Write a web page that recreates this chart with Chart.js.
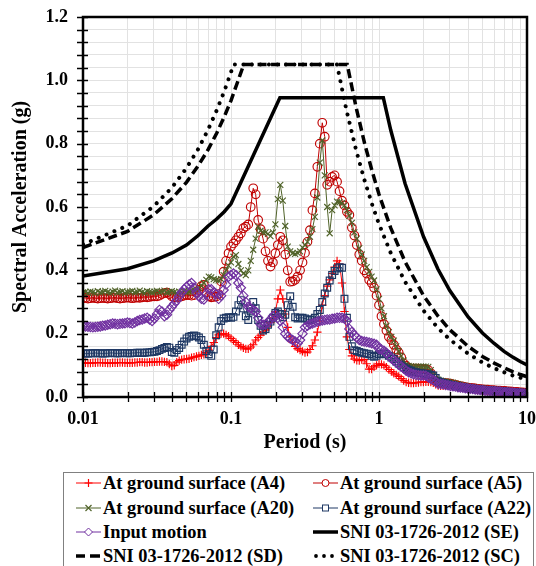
<!DOCTYPE html>
<html><head><meta charset="utf-8">
<script src="https://cdn.jsdelivr.net/npm/chart.js@4.4.1/dist/chart.umd.min.js"></script>
<style>
html,body{margin:0;padding:0;background:#fff;}
#wrap{position:absolute;left:0;top:0;width:536px;height:466px;}
#legend{position:absolute;left:63px;top:472px;width:471px;height:110px;border:1px solid #808080;box-sizing:border-box;font-family:"Liberation Serif","Times New Roman",serif;font-weight:bold;font-size:18.4px;color:#000;}
.it{position:absolute;height:20px;display:flex;align-items:center;white-space:nowrap;}
.it svg{margin-right:2px;flex:none;}
</style></head><body>
<div id="wrap"><canvas id="c"></canvas></div>
<div id="legend"></div>
<script>
// ---- data ----
const periods = [
0.01000,0.01039,0.01080,0.01122,0.01166,0.01212,0.01259,0.01308,0.01359,0.01413,
0.01468,0.01526,0.01585,0.01647,0.01711,0.01778,0.01848,0.01920,0.01995,0.02073,
0.02154,0.02239,0.02326,0.02417,0.02512,0.02610,0.02712,0.02818,0.02929,0.03043,
0.03162,0.03286,0.03415,0.03548,0.03687,0.03831,0.03981,0.04137,0.04299,0.04467,
0.04642,0.04823,0.05012,0.05208,0.05412,0.05623,0.05843,0.06072,0.06310,0.06556,
0.06813,0.07079,0.07356,0.07644,0.07943,0.08254,0.08577,0.08913,0.09261,0.09624,
0.1000,0.1039,0.1080,0.1122,0.1166,0.1212,0.1259,0.1308,0.1359,0.1413,
0.1468,0.1526,0.1585,0.1647,0.1711,0.1778,0.1848,0.1920,0.1995,0.2073,
0.2154,0.2239,0.2326,0.2417,0.2512,0.2610,0.2712,0.2818,0.2929,0.3043,
0.3162,0.3286,0.3415,0.3548,0.3687,0.3831,0.3981,0.4137,0.4299,0.4467,
0.4642,0.4823,0.5012,0.5208,0.5412,0.5623,0.5843,0.6072,0.6310,0.6556,
0.6813,0.7079,0.7356,0.7644,0.7943,0.8254,0.8577,0.8913,0.9261,0.9624,
1.000,1.039,1.080,1.122,1.166,1.212,1.259,1.308,1.359,1.413,
1.468,1.526,1.585,1.647,1.711,1.778,1.848,1.920,1.995,2.073,
2.154,2.239,2.326,2.417,2.512,2.610,2.712,2.818,2.929,3.043,
3.162,3.286,3.415,3.548,3.687,3.831,3.981,4.137,4.299,4.467,
4.642,4.823,5.012,5.208,5.412,5.623,5.843,6.072,6.310,6.556,
6.813,7.079,7.356,7.644,7.943,8.254,8.577,8.913,9.261,9.624,
10.00];
const saA4 = [
0.108,0.108,0.107,0.107,0.108,0.108,0.109,0.109,0.108,0.108,
0.107,0.107,0.108,0.108,0.108,0.109,0.109,0.108,0.108,0.108,
0.108,0.109,0.109,0.110,0.110,0.109,0.109,0.110,0.110,0.111,
0.111,0.112,0.112,0.111,0.110,0.104,0.098,0.100,0.110,0.115,
0.118,0.119,0.120,0.121,0.124,0.126,0.128,0.130,0.133,0.135,
0.140,0.148,0.160,0.172,0.188,0.196,0.200,0.200,0.196,0.192,
0.185,0.178,0.172,0.165,0.160,0.155,0.152,0.152,0.158,0.165,
0.180,0.188,0.195,0.205,0.212,0.222,0.235,0.250,0.270,0.310,
0.338,0.310,0.262,0.220,0.190,0.172,0.160,0.153,0.148,0.144,
0.140,0.142,0.150,0.162,0.180,0.205,0.240,0.290,0.320,0.350,
0.370,0.390,0.410,0.430,0.420,0.360,0.270,0.190,0.150,0.130,
0.120,0.116,0.115,0.118,0.118,0.105,0.088,0.088,0.095,0.100,
0.105,0.103,0.100,0.094,0.087,0.080,0.075,0.070,0.065,0.058,
0.052,0.047,0.045,0.044,0.044,0.045,0.046,0.047,0.047,0.048,
0.048,0.047,0.045,0.040,0.036,0.035,0.035,0.036,0.037,0.037,
0.036,0.035,0.033,0.032,0.030,0.029,0.028,0.027,0.026,0.025,
0.024,0.023,0.022,0.022,0.021,0.021,0.020,0.019,0.018,0.018,
0.017,0.017,0.016,0.016,0.015,0.015,0.014,0.014,0.013,0.013,
0.012];
const saA5 = [
0.312,0.313,0.311,0.312,0.314,0.312,0.311,0.312,0.313,0.312,
0.311,0.312,0.313,0.314,0.312,0.311,0.312,0.313,0.314,0.313,
0.312,0.313,0.314,0.313,0.315,0.316,0.315,0.316,0.318,0.318,
0.318,0.320,0.325,0.328,0.330,0.325,0.318,0.315,0.315,0.316,
0.318,0.320,0.322,0.322,0.320,0.322,0.330,0.338,0.350,0.354,
0.330,0.318,0.315,0.316,0.317,0.325,0.365,0.396,0.430,0.454,
0.475,0.485,0.495,0.506,0.517,0.533,0.538,0.545,0.600,0.659,
0.640,0.559,0.530,0.500,0.460,0.430,0.412,0.425,0.454,0.480,
0.506,0.495,0.450,0.400,0.364,0.365,0.370,0.380,0.400,0.425,
0.455,0.490,0.527,0.590,0.643,0.727,0.800,0.866,0.822,0.670,
0.680,0.695,0.700,0.680,0.650,0.620,0.605,0.585,0.575,0.535,
0.510,0.480,0.450,0.430,0.400,0.390,0.370,0.360,0.345,0.320,
0.290,0.255,0.230,0.210,0.190,0.180,0.165,0.150,0.140,0.125,
0.106,0.098,0.092,0.090,0.090,0.090,0.090,0.089,0.088,0.087,
0.085,0.075,0.060,0.050,0.046,0.045,0.044,0.044,0.043,0.042,
0.040,0.038,0.036,0.034,0.033,0.031,0.030,0.029,0.028,0.027,
0.026,0.025,0.024,0.023,0.023,0.022,0.022,0.021,0.020,0.020,
0.019,0.019,0.018,0.018,0.017,0.016,0.016,0.015,0.015,0.014,
0.014];
const saA20 = [
0.330,0.332,0.329,0.333,0.331,0.328,0.334,0.330,0.332,0.335,
0.331,0.329,0.333,0.336,0.330,0.332,0.334,0.329,0.331,0.333,
0.335,0.330,0.332,0.336,0.331,0.329,0.334,0.332,0.330,0.333,
0.335,0.331,0.333,0.336,0.330,0.332,0.334,0.331,0.329,0.333,
0.332,0.335,0.330,0.333,0.336,0.338,0.340,0.345,0.352,0.360,
0.370,0.380,0.378,0.372,0.370,0.368,0.372,0.385,0.400,0.415,
0.425,0.443,0.448,0.420,0.400,0.390,0.385,0.400,0.430,0.465,
0.500,0.538,0.525,0.520,0.520,0.515,0.508,0.520,0.545,0.625,
0.670,0.620,0.540,0.475,0.460,0.454,0.452,0.455,0.460,0.472,
0.480,0.490,0.506,0.530,0.569,0.630,0.740,0.810,0.700,0.600,
0.517,0.590,0.605,0.617,0.615,0.612,0.605,0.590,0.572,0.550,
0.520,0.500,0.470,0.450,0.430,0.410,0.395,0.380,0.368,0.340,
0.310,0.280,0.255,0.225,0.205,0.190,0.178,0.160,0.145,0.130,
0.115,0.102,0.098,0.097,0.096,0.096,0.096,0.096,0.096,0.096,
0.095,0.085,0.068,0.058,0.055,0.052,0.050,0.049,0.048,0.047,
0.045,0.043,0.041,0.039,0.037,0.035,0.033,0.032,0.031,0.030,
0.029,0.028,0.027,0.026,0.025,0.024,0.023,0.022,0.022,0.021,
0.020,0.020,0.019,0.018,0.018,0.017,0.016,0.016,0.015,0.015,
0.014];
const saA22 = [
0.138,0.137,0.137,0.138,0.138,0.139,0.138,0.138,0.137,0.138,
0.138,0.139,0.139,0.138,0.138,0.138,0.139,0.139,0.138,0.138,
0.139,0.139,0.140,0.140,0.139,0.140,0.141,0.141,0.142,0.143,
0.145,0.148,0.152,0.155,0.158,0.156,0.142,0.140,0.148,0.155,
0.165,0.175,0.185,0.190,0.193,0.194,0.192,0.188,0.180,0.165,
0.145,0.135,0.130,0.150,0.195,0.220,0.240,0.248,0.250,0.252,
0.250,0.253,0.270,0.290,0.306,0.280,0.255,0.243,0.270,0.300,
0.280,0.243,0.225,0.210,0.215,0.228,0.238,0.250,0.265,0.270,
0.262,0.252,0.260,0.290,0.318,0.285,0.252,0.248,0.250,0.250,
0.248,0.245,0.243,0.245,0.250,0.262,0.275,0.300,0.327,0.345,
0.368,0.385,0.398,0.406,0.410,0.408,0.310,0.250,0.190,0.160,
0.148,0.145,0.142,0.140,0.138,0.137,0.135,0.130,0.127,0.130,
0.135,0.137,0.137,0.135,0.130,0.125,0.120,0.112,0.106,0.100,
0.094,0.090,0.086,0.083,0.080,0.078,0.076,0.075,0.074,0.073,
0.071,0.070,0.068,0.060,0.050,0.047,0.044,0.042,0.040,0.038,
0.037,0.035,0.034,0.032,0.031,0.029,0.028,0.027,0.026,0.025,
0.024,0.024,0.023,0.022,0.022,0.021,0.021,0.020,0.020,0.019,
0.019,0.018,0.017,0.016,0.016,0.015,0.014,0.014,0.013,0.013,
0.012];
const saInput = [
0.224,0.223,0.222,0.221,0.220,0.221,0.222,0.223,0.225,0.226,
0.228,0.230,0.232,0.231,0.230,0.231,0.232,0.233,0.235,0.234,
0.232,0.235,0.240,0.243,0.245,0.248,0.250,0.245,0.240,0.248,
0.262,0.275,0.270,0.255,0.260,0.275,0.285,0.295,0.305,0.318,
0.330,0.340,0.348,0.355,0.360,0.345,0.330,0.318,0.310,0.308,
0.325,0.340,0.340,0.330,0.325,0.310,0.320,0.338,0.355,0.380,
0.385,0.390,0.385,0.360,0.345,0.320,0.300,0.285,0.280,0.275,
0.270,0.250,0.230,0.228,0.230,0.235,0.245,0.255,0.260,0.250,
0.240,0.220,0.200,0.190,0.185,0.180,0.175,0.170,0.180,0.200,
0.220,0.225,0.230,0.232,0.235,0.238,0.240,0.242,0.243,0.245,
0.245,0.247,0.248,0.250,0.250,0.250,0.248,0.240,0.215,0.205,
0.195,0.188,0.180,0.177,0.175,0.174,0.172,0.170,0.168,0.165,
0.152,0.150,0.146,0.140,0.130,0.122,0.115,0.110,0.102,0.096,
0.090,0.083,0.078,0.075,0.072,0.070,0.069,0.068,0.068,0.067,
0.062,0.058,0.054,0.048,0.042,0.041,0.040,0.038,0.037,0.035,
0.034,0.033,0.031,0.030,0.029,0.028,0.027,0.026,0.025,0.024,
0.023,0.022,0.021,0.020,0.019,0.019,0.018,0.018,0.017,0.017,
0.016,0.015,0.015,0.014,0.014,0.013,0.012,0.012,0.011,0.011,
0.010];
const seT  = [0.01,0.02,0.03,0.04,0.05,0.06,0.07,0.08,0.09,0.1,0.214,1.07,1.2,1.5,2,2.5,3,4,5,6,7,8,9,10];
const seSa = [0.382,0.405,0.430,0.455,0.480,0.510,0.540,0.562,0.585,0.610,0.945,0.945,0.843,0.674,0.506,0.404,0.337,0.253,0.202,0.169,0.144,0.126,0.112,0.101];
const sdT  = [0.01,0.02,0.03,0.04,0.05,0.06,0.07,0.08,0.09,0.1,0.122,0.61,0.7,0.8,0.9,1,1.2,1.5,2,2.5,3,4,5,6,7,8,9,10];
const sdSa = [0.472,0.523,0.575,0.627,0.678,0.730,0.781,0.833,0.885,0.936,1.050,1.050,0.915,0.800,0.712,0.640,0.534,0.427,0.320,0.256,0.213,0.160,0.128,0.107,0.092,0.080,0.071,0.064];
const scT  = [0.01,0.02,0.03,0.04,0.05,0.06,0.07,0.08,0.09,0.1,0.104,0.52,0.6,0.7,0.8,0.9,1,1.2,1.5,2,2.5,3,4,5,6,7,8,9,10];
const scSa = [0.482,0.541,0.602,0.662,0.723,0.783,0.844,0.905,0.965,1.026,1.050,1.050,0.910,0.780,0.683,0.607,0.546,0.455,0.364,0.273,0.218,0.182,0.137,0.109,0.091,0.078,0.068,0.061,0.055];
const seriesNames = ["At ground surface (A4)","At ground surface (A5)","At ground surface (A20)","At ground surface (A22)","Input motion","SNI 03-1726-2012 (SE)","SNI 03-1726-2012 (SD)","SNI 03-1726-2012 (SC)"];
const xTickLabels = ["0.01","0.1","1","10"];
const yTickLabels = ["0.0","0.2","0.4","0.6","0.8","1.0","1.2"];

// ---- build ----
const FONT = '"Liberation Serif","Times New Roman",serif';
const pts = (xs, ys) => xs.map((x, i) => ({x: x, y: ys[i]}));
const COL = {a4:'#ff0000', a5:'#c00000', a20:'#4f6228', a22:'#1f3864', inp:'#7030a0'};

function measured(label, ys, color, style, r, order) {
  return {label, data: pts(periods, ys), borderColor: color, borderWidth: 1,
    pointStyle: style, pointRadius: r, pointBorderColor: color, pointBorderWidth: 1.15,
    pointBackgroundColor: 'rgba(0,0,0,0)', tension: 0, order};
}
function code(label, xs, ys, dash, cap, w) {
  return {label, data: pts(xs, ys), borderColor: '#000', borderWidth: w,
    borderDash: dash, borderCapStyle: cap, pointRadius: 0, tension: 0, order: 0};
}
const datasets = [
  measured(seriesNames[0], saA4, COL.a4, 'cross', 4.2, 5),
  measured(seriesNames[1], saA5, COL.a5, 'circle', 4.3, 4),
  measured(seriesNames[2], saA20, COL.a20, 'crossRot', 4.2, 3),
  measured(seriesNames[3], saA22, COL.a22, 'rect', 4.8, 2),
  measured(seriesNames[4], saInput, COL.inp, 'rectRot', 4.7, 1),
  code(seriesNames[5], seT, seSa, [], 'butt', 3.5),
  code(seriesNames[6], sdT, sdSa, [9, 4.5], 'butt', 3.5),
  code(seriesNames[7], scT, scSa, [0.01, 8.5], 'round', 4)
];

const xTickValues = [];
[0.01, 0.1, 1].forEach(d => { for (let m = 1; m <= 9; m++) xTickValues.push(+(m * d).toPrecision(3)); });
xTickValues.push(10);

const frame = {
  id: 'frame',
  afterDatasetsDraw(chart) {
    const {ctx, chartArea: a, scales} = chart;
    ctx.save();
    ctx.strokeStyle = '#000';
    ctx.lineWidth = 1.3;
    ctx.beginPath();
    scales.y.ticks.forEach(t => {
      const y = Math.round(scales.y.getPixelForValue(t.value)) + 0.5;
      ctx.moveTo(a.left - 6, y); ctx.lineTo(a.left + 5, y);
    });
    scales.x.ticks.forEach(t => {
      const x = Math.round(scales.x.getPixelForValue(t.value)) + 0.5;
      ctx.moveTo(x, a.bottom - 5); ctx.lineTo(x, a.bottom + 5);
    });
    ctx.stroke();
    ctx.lineWidth = 2.5;
    ctx.strokeRect(a.left, a.top, a.right - a.left, a.bottom - a.top);
    ctx.restore();
  }
};

new Chart(document.getElementById('c'), {
  type: 'line',
  data: {datasets},
  options: {
    responsive: true, maintainAspectRatio: false, animation: false,
    layout: {padding: {top: 17, right: 9, left: 0, bottom: 0}},
    plugins: {legend: {display: false}, tooltip: {enabled: false}},
    scales: {
      x: {
        type: 'logarithmic', min: 0.01, max: 10,
        afterBuildTicks: s => { s.ticks = xTickValues.map(v => ({value: v})); },
        afterFit: s => { s.height = 69; s.paddingLeft = 0; s.paddingRight = 0; },
        grid: {color: '#e2e2e2', lineWidth: 1, drawTicks: false},
        border: {display: false},
        ticks: {
          autoSkip: false, maxRotation: 0, padding: 12, color: '#000',
          font: {family: FONT, size: 18, weight: 'bold'},
          callback: v => { const i = [0.01, 0.1, 1, 10].findIndex(d => Math.abs(v - d) < 1e-9); return i >= 0 ? xTickLabels[i] : ''; }
        },
        title: {display: true, text: 'Period (s)', color: '#000', padding: {top: 0, bottom: 11},
          font: {family: FONT, size: 20, weight: 'bold'}}
      },
      y: {
        min: 0, max: 1.2,
        afterBuildTicks: s => { const t = []; for (let i = 0; i <= 30; i++) t.push({value: +(i * 0.04).toFixed(2)}); s.ticks = t; },
        afterFit: s => { s.width = 83; s.paddingTop = 0; s.paddingBottom = 0; },
        grid: {color: '#e2e2e2', lineWidth: 1, drawTicks: false},
        border: {display: false},
        ticks: {
          autoSkip: false, padding: 15, color: '#000',
          font: {family: FONT, size: 18, weight: 'bold'},
          callback: v => { const k = Math.round(v / 0.04); return k % 5 === 0 ? yTickLabels[k / 5] : ''; }
        },
        title: {display: true, text: 'Spectral Acceleration (g)', color: '#000', padding: {top: 9, bottom: 0},
          font: {family: FONT, size: 20, weight: 'bold'}}
      }
    }
  },
  plugins: [frame]
});

// ---- legend (HTML) ----
function swatch(kind, color) {
  let s = '<svg width="25" height="14" viewBox="0 0 25 14">';
  if (kind === 'se') s += '<line x1="0" y1="7" x2="25" y2="7" stroke="#000" stroke-width="3.5"/>';
  else if (kind === 'sd') s += '<line x1="0" y1="7" x2="9" y2="7" stroke="#000" stroke-width="3.5"/><line x1="14" y1="7" x2="24" y2="7" stroke="#000" stroke-width="3.5"/>';
  else if (kind === 'sc') s += '<circle cx="3" cy="7" r="1.9" fill="#000"/><circle cx="11" cy="7" r="1.9" fill="#000"/><circle cx="19" cy="7" r="1.9" fill="#000"/>';
  else {
    s += `<line x1="0" y1="7" x2="25" y2="7" stroke="${color}" stroke-width="1"/>`;
    const m = {
      cross: `<path d="M8.5 7H16.5M12.5 3V11" stroke="${color}" stroke-width="1.2" fill="none"/>`,
      circle: `<circle cx="12.5" cy="7" r="3.5" stroke="${color}" stroke-width="1" fill="#fff"/>`,
      crossRot: `<path d="M9.5 4L15.5 10M15.5 4L9.5 10" stroke="${color}" stroke-width="1.2" fill="none"/>`,
      rect: `<rect x="9.5" y="4" width="6" height="6" stroke="${color}" stroke-width="1" fill="#fff"/>`,
      rectRot: `<path d="M12.5 3L16.5 7L12.5 11L8.5 7Z" stroke="${color}" stroke-width="1" fill="#fff"/>`
    };
    s += m[kind];
  }
  return s + '</svg>';
}
const legendKinds = [['cross', COL.a4], ['circle', COL.a5], ['crossRot', COL.a20], ['rect', COL.a22], ['rectRot', COL.inp], ['se'], ['sd'], ['sc']];
const lg = document.getElementById('legend');
const rowTops = [0, 25, 49, 73];
legendKinds.forEach((k, i) => {
  const d = document.createElement('div');
  d.className = 'it';
  d.style.left = (i % 2 === 0 ? 12 : 249) + 'px';
  d.style.top = rowTops[Math.floor(i / 2)] + 'px';
  d.innerHTML = swatch(k[0], k[1]) + '<span>' + seriesNames[i] + '</span>';
  lg.appendChild(d);
});
</script></body></html>
